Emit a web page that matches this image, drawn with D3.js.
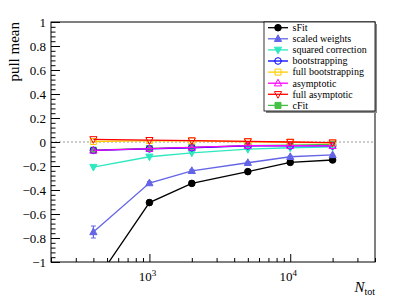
<!DOCTYPE html>
<html lang="en">
<head>
<meta charset="UTF-8">
<script src="https://d3js.org/d3.v7.min.js"></script>
<title>pull mean vs N_tot</title>
<style>
  body { margin: 0; background: #fff; }
  svg text { font-family: "Liberation Serif", "DejaVu Serif", serif !important; }
</style>
</head>
<body>
<script>
// sample sizes
const nTot = [400, 1000, 2000, 5000, 10000, 20000];

// pull means per method
const sFit          = [-1.19, -0.505, -0.345, -0.247, -0.170, -0.150];
const sFitErr       = [0.06, 0.02, 0.018, 0.01, 0.008, 0.006];
const scaledWeights = [-0.750, -0.342, -0.240, -0.173, -0.123, -0.108];
const scaledErr     = [0.05, 0.012, 0.01, 0.008, 0.006, 0.005];
const squaredCorr   = [-0.209, -0.123, -0.090, -0.060, -0.048, -0.040];
const bootstrapping = [-0.070, -0.057, -0.048, -0.032, -0.032, -0.032];
const fullBootstrap = [0.004, 0.012, 0.010, 0.002, -0.002, -0.008];
const asymptotic    = [-0.070, -0.055, -0.045, -0.030, -0.030, -0.032];
const fullAsymptotic= [0.022, 0.015, 0.012, 0.005, 0.000, -0.005];
const cFit          = [-0.068, -0.054, -0.044, -0.030, -0.026, -0.020];

const yTicks = [-1, -0.8, -0.6, -0.4, -0.2, 0, 0.2, 0.4, 0.6, 0.8, 1];
const xMajor = [1000, 10000];
const xMinor = [200, 300, 400, 500, 600, 700, 800, 900,
                2000, 3000, 4000, 5000, 6000, 7000, 8000, 9000,
                20000, 30000, 40000];

const series = [
  { name: "cFit", vals: cFit, color: "#44c044", shape: "square", fill: true },
  { name: "sFit", vals: sFit, err: sFitErr, color: "#000000", shape: "circle", fill: true },
  { name: "scaled weights", vals: scaledWeights, err: scaledErr, color: "#6464e6", shape: "triUp", fill: true },
  { name: "squared correction", vals: squaredCorr, color: "#2ee8c0", shape: "triDown", fill: true },
  { name: "bootstrapping", vals: bootstrapping, color: "#0000ff", shape: "circle", fill: false },
  { name: "full bootstrapping", vals: fullBootstrap, color: "#ffcc00", shape: "square", fill: false },
  { name: "asymptotic", vals: asymptotic, color: "#ff00ff", shape: "triUp", fill: false },
  { name: "full asymptotic", vals: fullAsymptotic, color: "#ff0000", shape: "triDown", fill: false }
];
const legendOrder = ["sFit", "scaled weights", "squared correction", "bootstrapping",
                     "full bootstrapping", "asymptotic", "full asymptotic", "cFit"];

const W = 407, H = 299;
const L = 51, R = 375, T = 22, B = 262;
const serif = "Liberation Serif";

const svg = d3.select("body").append("svg")
  .attr("width", W).attr("height", H)
  .style("font-family", serif);

const x = d3.scaleLog().domain([200, 40000]).range([L, R]);
const y = d3.scaleLinear().domain([-1, 1]).range([B, T]);

svg.append("clipPath").attr("id", "clip")
  .append("rect").attr("x", L).attr("y", T).attr("width", R - L).attr("height", B - T);

// zero line
svg.append("line")
  .attr("x1", L).attr("x2", R).attr("y1", y(0)).attr("y2", y(0))
  .attr("stroke", "#999").attr("stroke-dasharray", "2,2");

function markerPath(shape, s) {
  const p = d3.path();
  if (shape === "square") { p.rect(-s, -s, 2 * s, 2 * s); }
  if (shape === "triUp") { p.moveTo(0, -s * 1.1); p.lineTo(s, s * 0.75); p.lineTo(-s, s * 0.75); p.closePath(); }
  if (shape === "triDown") { p.moveTo(0, s * 1.1); p.lineTo(s, -s * 0.75); p.lineTo(-s, -s * 0.75); p.closePath(); }
  return p.toString();
}

function drawMarker(g, d, cx, cy) {
  const s = d.shape === "square" ? 3 : 3.6;
  if (d.shape === "circle") {
    g.append("circle").attr("cx", cx).attr("cy", cy).attr("r", 3.3)
      .attr("fill", d.fill ? d.color : "none").attr("stroke", d.color).attr("stroke-width", 1);
  } else {
    g.append("path").attr("d", markerPath(d.shape, s))
      .attr("transform", `translate(${cx},${cy})`)
      .attr("fill", d.fill ? d.color : "none").attr("stroke", d.color).attr("stroke-width", 1);
  }
}

const plot = svg.append("g").attr("clip-path", "url(#clip)");
const line = d3.line().x((d, i) => x(nTot[i])).y(d => y(d));

series.forEach(s => {
  const g = plot.append("g");
  g.append("path").attr("d", line(s.vals))
    .attr("fill", "none").attr("stroke", s.color).attr("stroke-width", 1.3);
  if (s.err) {
    s.vals.forEach((v, i) => {
      const cx = x(nTot[i]);
      g.append("line").attr("x1", cx).attr("x2", cx)
        .attr("y1", y(v - s.err[i])).attr("y2", y(v + s.err[i]))
        .attr("stroke", s.color).attr("stroke-width", 1.2);
      [v - s.err[i], v + s.err[i]].forEach(e => {
        g.append("line").attr("x1", cx - 2.5).attr("x2", cx + 2.5)
          .attr("y1", y(e)).attr("y2", y(e)).attr("stroke", s.color);
      });
    });
  }
  s.vals.forEach((v, i) => drawMarker(g, s, x(nTot[i]), y(v)));
});

// frame
svg.append("rect").attr("x", L).attr("y", T).attr("width", R - L).attr("height", B - T)
  .attr("fill", "none").attr("stroke", "#000").attr("stroke-width", 1);

// y axis
const yAxis = svg.append("g").attr("transform", `translate(${L},0)`)
  .call(d3.axisLeft(y).tickValues(yTicks).tickSize(-9).tickPadding(5)
    .tickFormat(d => d === 0 ? "0" : String(+d.toFixed(1)).replace("-", "\u2212")));
const yMinor = d3.range(-1, 1.0001, 0.04).map(v => +v.toFixed(2));
svg.append("g").attr("transform", `translate(${L},0)`)
  .call(d3.axisLeft(y).tickValues(yMinor).tickSize(-4.5).tickFormat(""));

// x axis
svg.append("g").attr("transform", `translate(0,${B})`)
  .call(d3.axisBottom(x).tickValues(xMajor).tickSize(-8).tickFormat(""));
svg.append("g").attr("transform", `translate(0,${B})`)
  .call(d3.axisBottom(x).tickValues(xMinor).tickSize(-4).tickFormat(""));

svg.selectAll("g").attr("font-family", null);
svg.selectAll(".domain").remove();
svg.selectAll(".tick line").attr("stroke", "#000");
yAxis.selectAll("text").attr("font-size", 13).attr("fill", "#000");

xMajor.forEach(v => {
  const t = svg.append("text").attr("x", x(v) - 2).attr("y", 281)
    .attr("text-anchor", "middle").attr("font-size", 13);
  t.append("tspan").text("10");
  t.append("tspan").attr("dy", -5).attr("font-size", 9).text(String(Math.round(Math.log10(v))));
});

// axis titles
const xt = svg.append("text").attr("x", R).attr("y", 292).attr("text-anchor", "end");
xt.append("tspan").attr("font-style", "italic").attr("font-size", 15).text("N");
xt.append("tspan").attr("dy", 3).attr("font-size", 10).text("tot");

svg.append("text").attr("transform", `translate(19,${T}) rotate(-90)`)
  .attr("text-anchor", "end").attr("font-size", 15).text("pull mean");

// legend
const lg = svg.append("g");
const lx = 264, ly = T, lw = R - lx, lh = 89;
lg.append("rect").attr("x", lx + 2).attr("y", ly + 2).attr("width", lw).attr("height", lh).attr("fill", "#888");
lg.append("rect").attr("x", lx).attr("y", ly).attr("width", lw).attr("height", lh)
  .attr("fill", "#fff").attr("stroke", "#000").attr("stroke-width", 0.8);
legendOrder.forEach((name, i) => {
  const s = series.find(d => d.name === name);
  const cy = 27.7 + i * 11.1;
  lg.append("line").attr("x1", 268).attr("x2", 288).attr("y1", cy).attr("y2", cy)
    .attr("stroke", s.color).attr("stroke-width", 1.3);
  drawMarker(lg, s, 278, cy);
  lg.append("text").attr("x", 292.5).attr("y", cy + 3.3).attr("font-size", 10).text(name);
});
</script>
</body>
</html>
